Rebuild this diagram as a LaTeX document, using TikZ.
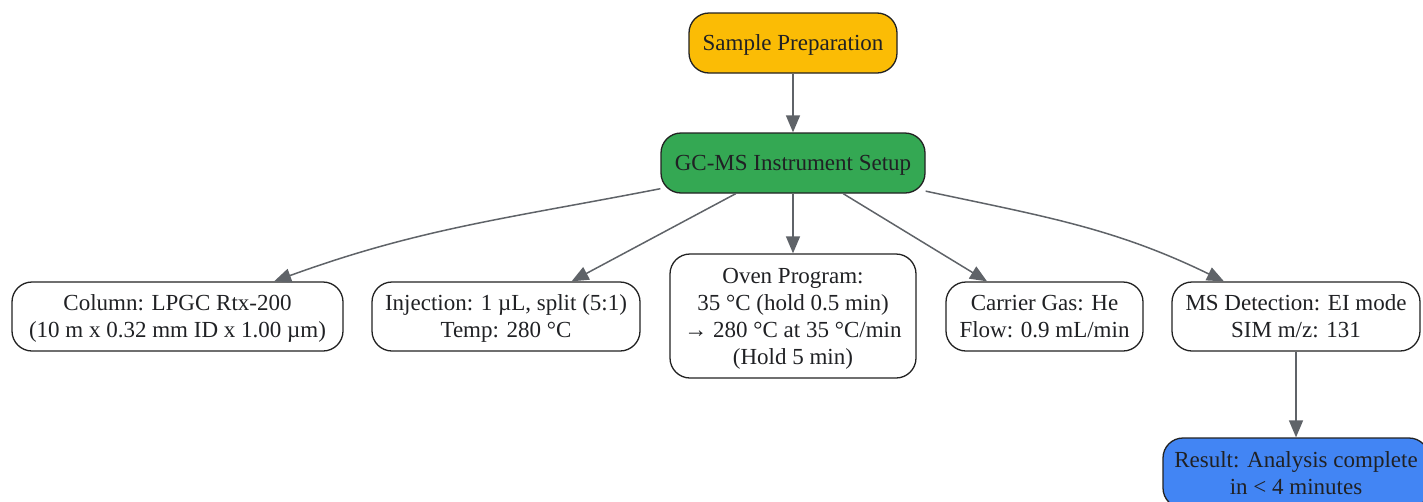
\documentclass[tikz,border=0pt]{standalone}
\usepackage{fontspec}
\setmainfont{Liberation Serif}
\usetikzlibrary{arrows.meta}
\definecolor{ylw}{HTML}{FBBC05}
\definecolor{grn}{HTML}{34A853}
\definecolor{blu}{HTML}{4285F4}
\definecolor{bordc}{HTML}{222222}
\definecolor{arrc}{HTML}{5F6368}
\definecolor{txtc}{HTML}{202124}
\begin{document}
\begin{tikzpicture}[x=1pt,y=-1pt,
  box/.style={draw=bordc, line width=1.3pt, rounded corners=20pt, align=center,
    font=\fontsize{23}{27}\selectfont, text=txtc, inner sep=0pt, fill=white, text depth=0pt},
  conn/.style={draw=arrc, line width=1.5pt, -{Triangle[length=17pt,width=14pt]}}]
\useasboundingbox (0,0) rectangle (1423,501);
\node[box, fill=ylw, minimum width=208pt, minimum height=60pt] (prep) at (793,43) {Sample Preparation};
\node[box, fill=grn, minimum width=264pt, minimum height=60pt] (gc) at (793,163) {GC-MS Instrument Setup};
\node[box, minimum width=331pt, minimum height=69pt] (col) at (177.5,316.5) {Column: LPGC Rtx-200\\(10 m x 0.32 mm ID x 1.00 µm)};
\node[box, minimum width=268pt, minimum height=69pt] (inj) at (506,316.5) {Injection: 1 µL, split (5:1)\\Temp: 280 °C};
\node[box, minimum width=246pt, minimum height=124pt] (oven) at (793,316) {Oven Program:\\35 °C (hold 0.5 min)\\→ 280 °C at 35 °C/min\\(Hold 5 min)};
\node[box, minimum width=197pt, minimum height=69pt] (gas) at (1044.5,316.5) {Carrier Gas: He\\Flow: 0.9 mL/min};
\node[box, minimum width=248pt, minimum height=69pt] (ms) at (1296,316.5) {MS Detection: EI mode\\SIM m/z: 131};
\node[box, fill=blu, minimum width=266pt, minimum height=70pt] (res) at (1296,473) {Result: Analysis complete\\in < 4 minutes};
\draw[conn] (prep) -- (gc);
\draw[conn] (gc) to[out=191,in=20] (col);
\draw[conn] (gc) -- (inj);
\draw[conn] (gc) -- (oven);
\draw[conn] (gc) -- (gas);
\draw[conn] (gc) to[out=348,in=154] (ms);
\draw[conn] (ms) -- (res);
\end{tikzpicture}
\end{document}
